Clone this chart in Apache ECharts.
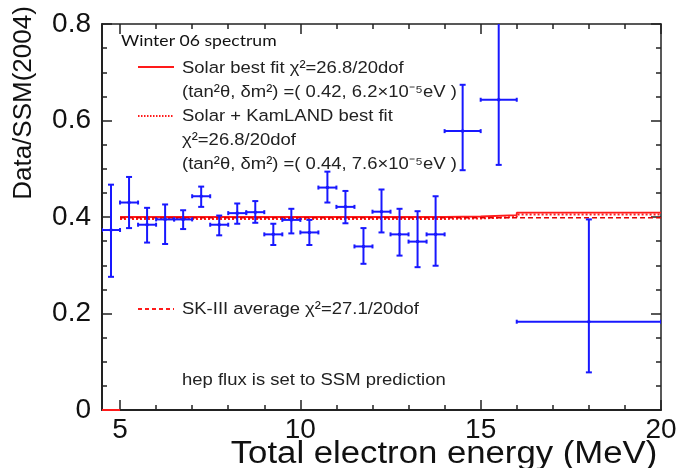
<!DOCTYPE html>
<html>
<head>
<meta charset="utf-8">
<script src="https://cdn.jsdelivr.net/npm/echarts@6/dist/echarts.min.js"></script>
<style>
  html, body { margin: 0; padding: 0; background: #fff; }
  #chart { width: 681px; height: 468px; }
</style>
</head>
<body>
<div id="chart"></div>
<script>
// energy bins (MeV)
const binLo = [4.5, 5.0, 5.5, 6.0, 6.5, 7.0, 7.5, 8.0, 8.5, 9.0, 9.5, 10.0, 10.5, 11.0, 11.5, 12.0, 12.5, 13.0, 13.5, 14, 15, 16]
const binHi = [5.0, 5.5, 6.0, 6.5, 7.0, 7.5, 8.0, 8.5, 9.0, 9.5, 10.0, 10.5, 11.0, 11.5, 12.0, 12.5, 13.0, 13.5, 14.0, 15, 16, 20]
const ratio = [0.373, 0.430, 0.384, 0.395, 0.395, 0.443, 0.384, 0.408, 0.410, 0.364, 0.394, 0.368, 0.461, 0.421, 0.339, 0.411, 0.364, 0.349, 0.364, 0.578, 0.643, 0.183]
const ratioUp = [0.467, 0.483, 0.419, 0.426, 0.414, 0.463, 0.403, 0.428, 0.433, 0.386, 0.417, 0.394, 0.494, 0.454, 0.377, 0.457, 0.417, 0.412, 0.443, 0.674, 0.850, 0.395]
const ratioDown = [0.276, 0.377, 0.347, 0.344, 0.375, 0.421, 0.362, 0.386, 0.388, 0.342, 0.366, 0.342, 0.430, 0.387, 0.303, 0.368, 0.320, 0.296, 0.299, 0.497, 0.508, 0.078]

// expected spectra (step functions)
const fitEdges = [5, 14, 15, 16, 20]
const solarFit = [0.400, 0.401, 0.404, 0.409]
const kamlandFit = [0.396, 0.397, 0.400, 0.405]
const solarLow = [[4.5, 0], [5, 0]]
const skAverage = 0.3985

const xMajor = [5, 10, 15, 20]
const xMinor = [6, 7, 8, 9, 11, 12, 13, 14, 16, 17, 18, 19]

const BLUE = '#1818ff'
const RED = '#ff1a1a'
const AXIS = '#222'
const FONT = '"Liberation Sans", Arial, sans-serif'

function stepPoints(edges, vals) {
  const pts = []
  vals.forEach((v, i) => {
    pts.push([edges[i], v], [edges[i + 1], v])
  })
  return pts
}

const chart = echarts.init(document.getElementById('chart'), null, { renderer: 'canvas' })

const errData = ratio.map((v, i) => [binLo[i], binHi[i], v, ratioDown[i], ratioUp[i]])

function renderErr(params, api) {
  const xl = api.value(0), xh = api.value(1), y = api.value(2), yl = api.value(3), yh = api.value(4)
  const xc = (xl + xh) / 2
  const pL = api.coord([xl, y]), pR = api.coord([xh, y])
  const pC = api.coord([xc, y]), pT = api.coord([xc, yh]), pB = api.coord([xc, yl])
  const st = { stroke: BLUE, lineWidth: 2 }
  const c = 3
  const line = (x1, y1, x2, y2) => ({ type: 'line', shape: { x1, y1, x2, y2 }, style: st })
  return {
    type: 'group',
    children: [
      line(pL[0], pL[1], pR[0], pR[1]),
      line(pT[0], pT[1], pB[0], pB[1]),
      line(pT[0] - c, pT[1], pT[0] + c, pT[1]),
      line(pB[0] - c, pB[1], pB[0] + c, pB[1]),
      line(pL[0], pL[1] - 2, pL[0], pL[1] + 2),
      line(pR[0], pR[1] - 2, pR[0], pR[1] + 2),
      { type: 'circle', shape: { cx: pC[0], cy: pC[1], r: 1.8 }, style: { fill: BLUE } }
    ]
  }
}

function xAxisDef(pos, ticks, len, showLine, showLabel) {
  return {
    type: 'value', position: pos, min: 4.5, max: 20,
    axisLine: { show: showLine, onZero: false, lineStyle: { color: AXIS, width: pos === 'bottom' ? 2 : 1.5 } },
    axisTick: { inside: true, length: len, customValues: ticks, lineStyle: { color: AXIS, width: 1.5 } },
    axisLabel: { show: showLabel, customValues: ticks, color: '#111', fontSize: 28, fontFamily: FONT, margin: 6 },
    splitLine: { show: false }
  }
}

function yAxisDef(pos, showLabel) {
  return {
    type: 'value', position: pos, min: 0, max: 0.8, interval: 0.2,
    axisLine: { show: true, onZero: false, lineStyle: { color: AXIS, width: pos === 'left' ? 2 : 1.5 } },
    axisTick: { inside: true, length: 10, lineStyle: { color: AXIS, width: 1.5 } },
    minorTick: { show: true, splitNumber: 4, length: 5, lineStyle: { color: AXIS, width: 1.5 } },
    axisLabel: { show: showLabel, color: '#111', fontSize: 28, fontFamily: FONT, margin: 11 },
    splitLine: { show: false },
    minorSplitLine: { show: false }
  }
}

const txt = (x, y, text, extra) => ({
  type: 'text', x, y, scaleX: 1.1,
  style: Object.assign({ text, font: '16.8px ' + FONT, fill: '#222', textVerticalAlign: 'middle', verticalAlign: 'middle' }, extra || {})
})
const sample = (y, dash) => ({
  type: 'line', shape: { x1: 138, y1: y, x2: 174, y2: y },
  style: { stroke: RED, lineWidth: dash === 'dotted' ? 1.8 : 1.8, lineDash: dash === 'dotted' ? [1.5, 1.5] : (dash === 'dashed' ? [4, 3] : null) }
})

chart.setOption({
  animation: false,
  grid: { left: 102, right: 20, top: 24, bottom: 58 },
  xAxis: [
    xAxisDef('bottom', xMajor, 10, true, true),
    xAxisDef('bottom', xMinor, 5, false, false),
    xAxisDef('top', xMajor, 10, true, false),
    xAxisDef('top', xMinor, 5, false, false)
  ],
  yAxis: [yAxisDef('left', true), yAxisDef('right', false)],
  series: [
    {
      type: 'line', data: stepPoints(fitEdges, solarFit), symbol: 'none',
      lineStyle: { color: RED, width: 1.8 }, z: 3
    },
    {
      type: 'line', data: solarLow, symbol: 'none',
      lineStyle: { color: RED, width: 2 }, z: 3
    },
    {
      type: 'line', data: stepPoints(fitEdges, kamlandFit), symbol: 'none',
      lineStyle: { color: RED, width: 2, type: [2, 2] }, z: 3
    },
    {
      type: 'line', data: [[5, skAverage], [20, skAverage]], symbol: 'none',
      lineStyle: { color: '#e00000', width: 1.5, type: [5, 3] }, z: 3
    },
    {
      type: 'custom', data: errData, renderItem: renderErr, clip: true, z: 4,
      encode: { x: [0, 1], y: [2, 3, 4] }
    }
  ],
  graphic: [
    txt(121, 41, 'Winter 06 spectrum', { font: '16px Lato, "Open Sans", sans-serif', fill: '#111' }),
    sample(67),
    txt(182, 68, 'Solar best fit χ²=26.8/20dof'),
    txt(182, 92, '(tan²θ, δm²) =( 0.42, 6.2×10⁻⁵eV )'),
    sample(116, 'dotted'),
    txt(182, 116, 'Solar + KamLAND best fit'),
    txt(182, 140, 'χ²=26.8/20dof'),
    txt(182, 164, '(tan²θ, δm²) =( 0.44, 7.6×10⁻⁵eV )'),
    sample(309, 'dashed'),
    txt(182, 309, 'SK-III average χ²=27.1/20dof'),
    txt(182, 380, 'hep flux is set to SSM prediction'),
    {
      type: 'text', x: 24, y: 103, rotation: Math.PI / 2,
      style: { text: 'Data/SSM(2004)', font: '26px ' + FONT, fill: '#111', textAlign: 'center', align: 'center', textVerticalAlign: 'middle', verticalAlign: 'middle' }
    },
    {
      type: 'text', x: 444, y: 454, scaleX: 1.12,
      style: { text: 'Total electron energy (MeV)', font: '31px ' + FONT, fill: '#111', textAlign: 'center', align: 'center', textVerticalAlign: 'middle', verticalAlign: 'middle' }
    }
  ]
})
</script>
</body>
</html>
